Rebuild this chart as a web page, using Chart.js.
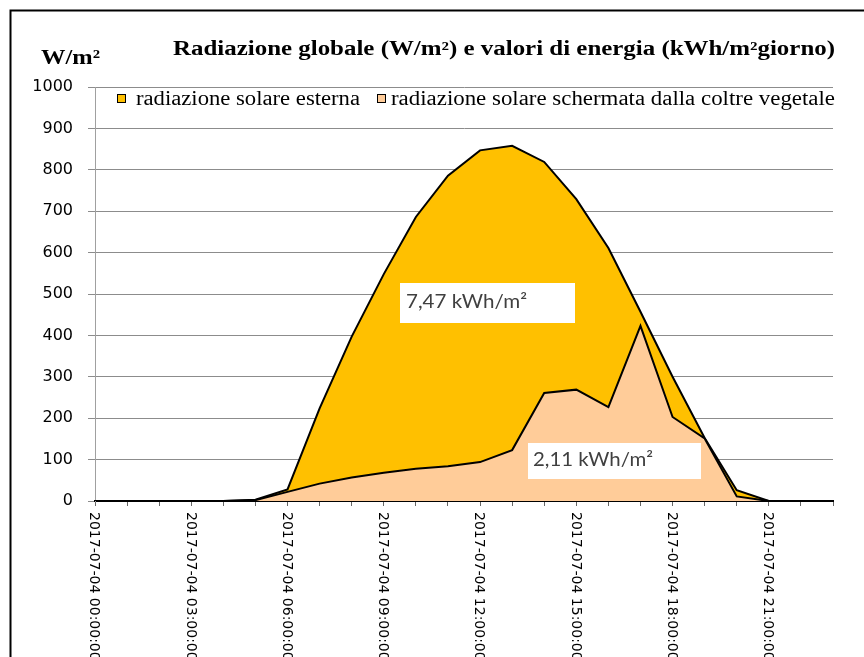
<!DOCTYPE html>
<html>
<head>
<meta charset="utf-8">
<script src="https://cdn.jsdelivr.net/npm/chart.js@4/dist/chart.umd.min.js"></script>
<style>
  html, body { margin: 0; padding: 0; background: #fff; }
  canvas { display: block; }
</style>
</head>
<body>
<canvas id="radChart" width="864" height="657"></canvas>
<script>
/* Radiazione globale del 2017-07-04, valori orari in W/m² */

// Categorie (ore del giorno)
const orari = [
  '2017-07-04 00:00:00', '2017-07-04 01:00:00', '2017-07-04 02:00:00', '2017-07-04 03:00:00',
  '2017-07-04 04:00:00', '2017-07-04 05:00:00', '2017-07-04 06:00:00', '2017-07-04 07:00:00',
  '2017-07-04 08:00:00', '2017-07-04 09:00:00', '2017-07-04 10:00:00', '2017-07-04 11:00:00',
  '2017-07-04 12:00:00', '2017-07-04 13:00:00', '2017-07-04 14:00:00', '2017-07-04 15:00:00',
  '2017-07-04 16:00:00', '2017-07-04 17:00:00', '2017-07-04 18:00:00', '2017-07-04 19:00:00',
  '2017-07-04 20:00:00', '2017-07-04 21:00:00', '2017-07-04 22:00:00', '2017-07-04 23:00:00'
];

// Serie
const radEsterna = [0, 0, 0, 0, 0, 3, 28, 224, 397, 548, 686, 786, 847, 858, 819, 729, 611, 457, 300, 152, 26, 0, 0, 0];
const radSchermata = [0, 0, 0, 0, 0, 2, 22, 42, 57, 68, 78, 84, 94, 123, 261, 269, 227, 423, 203, 151, 11, 0, 0, 0];

// Etichette
const yTickLabels = ['0', '100', '200', '300', '400', '500', '600', '700', '800', '900', '1000'];
const nomiSerie = ['radiazione solare esterna', 'radiazione solare schermata dalla coltre vegetale'];
const titolo = 'Radiazione globale (W/m²) e valori di energia (kWh/m²giorno)';
const unitaY = 'W/m²';
const energie = ['7,47 kWh/m²', '2,11 kWh/m²'];

const COL_ESTERNA = '#FFC000';
const COL_SCHERMATA = '#FFCC99';

// scrive un testo adattandolo a una larghezza data
function fitText(ctx, text, x, y, width, font) {
  ctx.font = font;
  const w = ctx.measureText(text).width;
  ctx.save();
  ctx.translate(x, y);
  ctx.scale(width / w, 1);
  ctx.fillText(text, 0, 0);
  ctx.restore();
}

const decorazioni = {
  id: 'decorazioni',
  beforeDraw(chart) {
    const ctx = chart.ctx;
    ctx.save();
    ctx.fillStyle = '#fff';
    ctx.fillRect(0, 0, chart.width, chart.height);
    // cornice
    ctx.strokeStyle = '#000';
    ctx.lineWidth = 2;
    ctx.beginPath();
    ctx.moveTo(10.5, chart.height + 5);
    ctx.lineTo(10.5, 10.5);
    ctx.lineTo(chart.width + 5, 10.5);
    ctx.stroke();
    ctx.restore();
  },
  afterDraw(chart) {
    const ctx = chart.ctx;
    const xs = chart.scales.x;
    ctx.save();

    // titolo e unità
    ctx.fillStyle = '#000';
    ctx.textBaseline = 'alphabetic';
    ctx.textAlign = 'left';
    fitText(ctx, titolo, 173, 55, 662, 'bold 20px "Liberation Serif"');
    fitText(ctx, unitaY, 41, 64, 59, 'bold 21px "Liberation Serif"');

    // legenda
    const leg = [
      { box: 117, tx: 136, w: 224, col: COL_ESTERNA },
      { box: 377, tx: 391, w: 444, col: COL_SCHERMATA }
    ];
    leg.forEach((l, i) => {
      ctx.fillStyle = l.col;
      ctx.fillRect(l.box, 94, 9, 9);
      ctx.strokeStyle = '#000';
      ctx.lineWidth = 1;
      ctx.strokeRect(l.box + 0.5, 94.5, 8, 8);
      ctx.fillStyle = '#000';
      fitText(ctx, nomiSerie[i], l.tx, 105, l.w, '20px "Liberation Serif"');
    });

    // etichette asse x, ruotate in verticale
    ctx.font = '14px "DejaVu Sans"';
    ctx.fillStyle = '#000';
    ctx.textBaseline = 'middle';
    orari.forEach((o, i) => {
      if (i % 3 !== 0) return;
      const x = xs.getPixelForValue(i);
      ctx.save();
      ctx.translate(x - 1, 512);
      ctx.rotate(Math.PI / 2);
      ctx.fillText(o, 0, 0);
      ctx.restore();
    });

    // riquadri con l'energia giornaliera
    const boxes = [
      { x: 400, y: 283, w: 175, h: 40, tx: 406, ty: 308, tw: 121 },
      { x: 528, y: 443, w: 173, h: 36, tx: 533, ty: 466, tw: 120 }
    ];
    ctx.textBaseline = 'alphabetic';
    boxes.forEach((b, i) => {
      ctx.fillStyle = '#fff';
      ctx.fillRect(b.x, b.y, b.w, b.h);
      ctx.fillStyle = '#404040';
      fitText(ctx, energie[i], b.tx, b.ty, b.tw, '19px Lato');
    });

    ctx.restore();
  }
};

const ctx = document.getElementById('radChart').getContext('2d');
new Chart(ctx, {
  type: 'line',
  data: {
    labels: orari,
    datasets: [
      {
        label: nomiSerie[0],
        data: radEsterna,
        backgroundColor: COL_ESTERNA,
        borderColor: '#000',
        borderWidth: 2,
        fill: 'origin',
        pointRadius: 0,
        tension: 0,
        order: 1
      },
      {
        label: nomiSerie[1],
        data: radSchermata,
        backgroundColor: COL_SCHERMATA,
        borderColor: '#000',
        borderWidth: 2,
        fill: 'origin',
        pointRadius: 0,
        tension: 0,
        order: 0
      }
    ]
  },
  options: {
    responsive: false,
    animation: false,
    devicePixelRatio: 1,
    layout: { padding: { left: 0, top: 87, right: 31, bottom: 0 } },
    plugins: {
      legend: { display: false },
      title: { display: false },
      tooltip: { enabled: false }
    },
    scales: {
      x: {
        offset: false,
        grid: { drawOnChartArea: false, color: '#666', tickLength: 5 },
        border: { color: '#000', width: 2 },
        ticks: { display: false, autoSkip: false },
        afterFit: (scale) => { scale.height = 156; }
      },
      y: {
        min: 0,
        max: 1000,
        ticks: {
          stepSize: 100,
          color: '#000',
          padding: 15,
          font: { family: 'DejaVu Sans', size: 16 },
          callback: (v, i) => yTickLabels[i]
        },
        grid: { color: '#8c8c8c', lineWidth: 1, tickLength: 7 },
        border: { color: '#a0a0a0', width: 1 },
        afterFit: (scale) => { scale.width = 95; }
      }
    }
  },
  plugins: [decorazioni]
});
</script>
</body>
</html>
